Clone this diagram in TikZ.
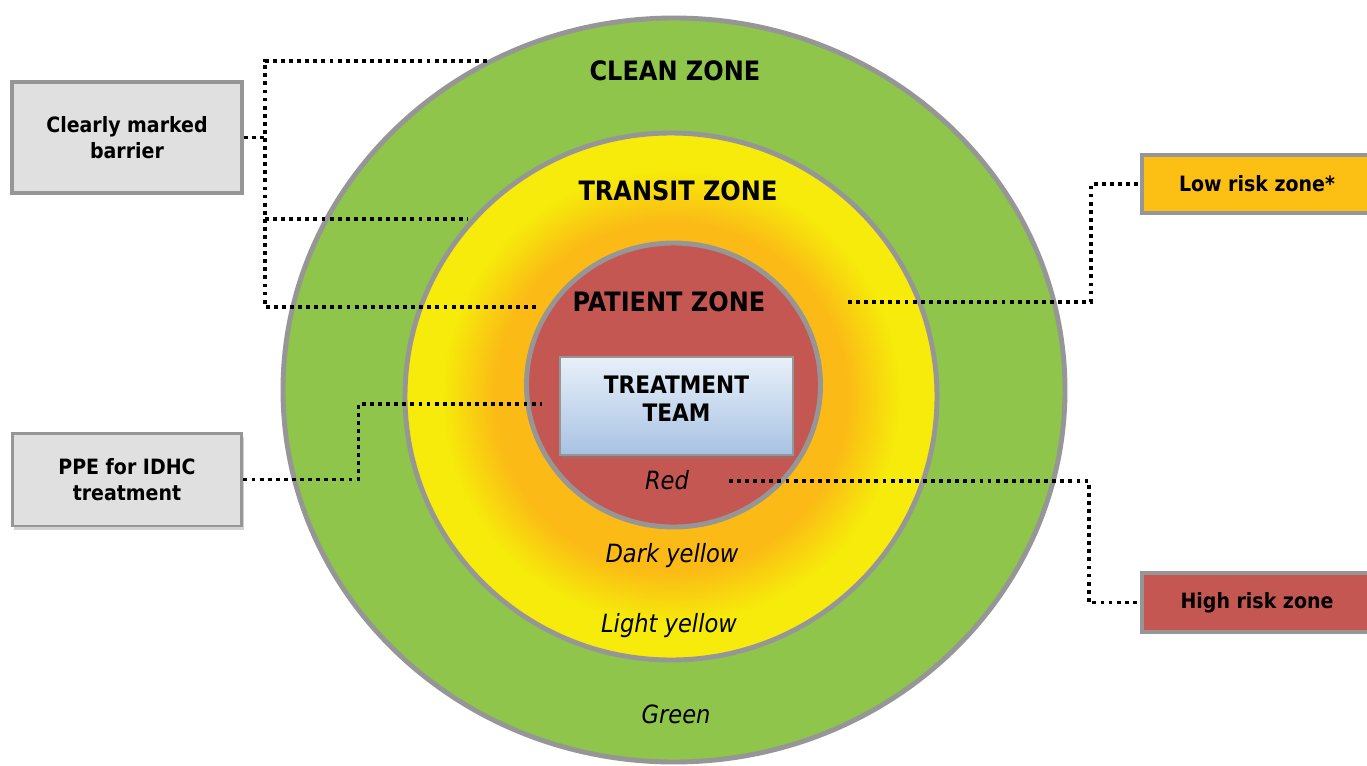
\documentclass[tikz,border=0pt]{standalone}
\usepackage{fontspec}
\setmainfont{DejaVu Sans Condensed}
\usetikzlibrary{shadows}

\definecolor{cleangreen}{RGB}{143,197,74}
\definecolor{lightyellow}{RGB}{246,235,10}
\definecolor{darkyellow}{RGB}{251,186,22}
\definecolor{patientred}{RGB}{197,87,82}
\definecolor{rimgray}{RGB}{150,150,150}
\definecolor{boxfill}{RGB}{224,224,224}
\definecolor{lowfill}{RGB}{252,191,20}
\definecolor{teamtop}{RGB}{232,240,249}
\definecolor{teambottom}{RGB}{168,194,227}

\pgfdeclareradialshading{transitshade}{\pgfpoint{0bp}{0bp}}{color(0bp)=(darkyellow); color(16.5bp)=(darkyellow); color(21.5bp)=(lightyellow); color(25bp)=(lightyellow); color(50bp)=(lightyellow)}

\tikzset{
  rim/.style={draw=rimgray, line width=2.8pt},
  zonetitle/.style={font=\fontsize{15.2}{18}\selectfont\bfseries},
  zonecolour/.style={anchor=base, font=\fontsize{14.3}{17}\selectfont\itshape},
  infobox/.style={draw=rimgray, line width=2.3pt, minimum width=4.6cm, align=center, font=\fontsize{12}{14.8}\selectfont\bfseries},
  leader/.style={line width=2.2pt, dash pattern=on 2.2pt off 2.4pt}
}

\begin{document}
\begin{tikzpicture}[x=0.02cm, y=-0.02cm]
\useasboundingbox (0,0) rectangle (1367,765);
\fill[white] (0,0) rectangle (1367,765);

\draw[rim, fill=cleangreen] (674,390) ellipse [x radius=391, y radius=372];
\draw[rim, shade, shading=transitshade] (671,396.5) ellipse [x radius=266, y radius=263.5];
\draw[rim, fill=patientred] (673.5,385) ellipse [x radius=147, y radius=142];

\node[zonetitle] (cleanlbl) at (675,71) {CLEAN ZONE};
\node[zonetitle] (transitlbl) at (678,190.5) {TRANSIT ZONE};
\node[zonetitle] (patientlbl) at (669,301.5) {PATIENT ZONE};

\node[draw=rimgray, line width=1.5pt, top color=teamtop, bottom color=teambottom,
  minimum width=4.66cm, minimum height=1.96cm, align=center, text depth=8pt,
  font=\fontsize{13.7}{16}\selectfont\bfseries,
  drop shadow={opacity=0.35, shadow xshift=1pt, shadow yshift=-2pt}] (team) at (676.5,406) {TREATMENT\\TEAM};

\node[zonecolour] (redlbl) at (667,489) {Red};
\node[zonecolour] (darklbl) at (672,562) {Dark yellow};
\node[zonecolour] (lightlbl) at (669,632) {Light yellow};
\node[zonecolour] (greenlbl) at (676,723) {Green};

\node[infobox, fill=boxfill, minimum height=2.22cm] (barrier) at (127,137.5) {Clearly marked\\barrier};
\node[infobox, fill=boxfill, line width=1.7pt, minimum height=1.86cm,
  drop shadow={opacity=0.35, shadow xshift=1pt, shadow yshift=-2pt}] (ppe) at (127,479.5) {PPE for IDHC\\treatment};
\node[infobox, fill=lowfill, minimum height=1.16cm] (lowrisk) at (1257,184) {Low risk zone*};
\node[infobox, fill=patientred, minimum height=1.18cm] (highrisk) at (1257,602.5) {High risk zone};

\coordinate (spinetop) at (265,61);
\coordinate (spinebottom) at (265,307);
\coordinate (cleanend) at (487,61);
\coordinate (transitend) at (468,219);
\coordinate (patientend) at (540,307);
\coordinate (ppeend) at (542,404);
\coordinate (lowstart) at (848,302);
\coordinate (highstart) at (729,481);

\draw[leader] (cleanend) -- (spinetop) -- (spinebottom) -- (patientend);
\draw[leader] (barrier.east) -- (barrier.east -| spinetop);
\draw[leader] (transitend -| spinetop) -- (transitend);
\draw[leader] (ppe.east) -- ++(115,0) |- (ppeend);
\draw[leader] (lowstart) -- ++(243,0) |- (lowrisk.west);
\draw[leader] (highstart) -- ++(360,0) |- (highrisk.west);
\end{tikzpicture}
\end{document}
